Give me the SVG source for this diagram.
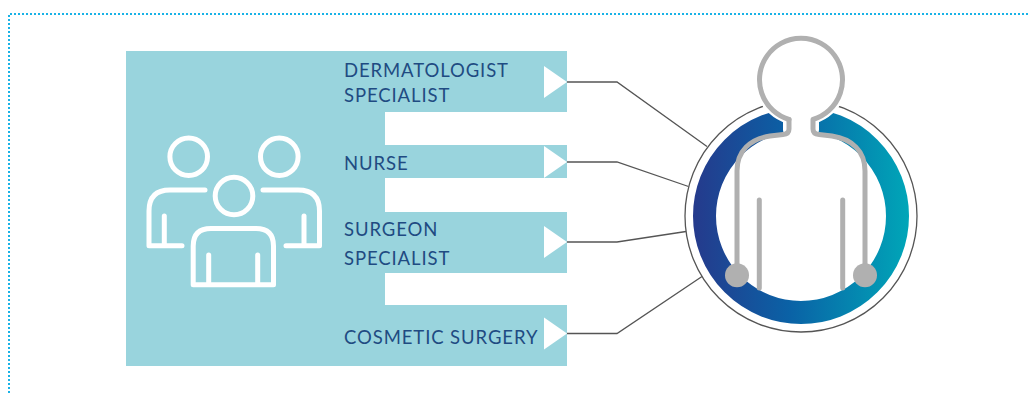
<svg xmlns="http://www.w3.org/2000/svg" width="1030" height="393" viewBox="0 0 1030 393">
  <defs>
    <linearGradient id="ringGrad" x1="693" y1="0" x2="909" y2="0" gradientUnits="userSpaceOnUse">
      <stop offset="0" stop-color="#253a8c"/>
      <stop offset="0.45" stop-color="#0a62a6"/>
      <stop offset="1" stop-color="#00a6b8"/>
    </linearGradient>
    <polygon id="tri" points="0,-16 23,0 0,16" fill="#ffffff"/>
  </defs>
  <style>
    .frame { fill: none; stroke: #19b2e6; stroke-width: 2; stroke-dasharray: 2 2; }
    .label { font-family: Lato, "Open Sans", sans-serif; font-size: 18.5px; letter-spacing: 0.9px; fill: #1f4b82; }
    .conn { fill: none; stroke: #555555; stroke-width: 1.3; }
    .icon { fill: none; stroke: #ffffff; stroke-width: 5; stroke-linecap: round; stroke-linejoin: round; }
    .fig { fill: none; stroke: #b0b0b0; stroke-width: 5; stroke-linecap: round; stroke-linejoin: round; }
    .halo { fill: #ffffff; stroke: #ffffff; stroke-width: 12; stroke-linejoin: round; }
  </style>

  <rect width="1030" height="393" fill="#ffffff"/>
  <path class="frame" d="M9,393 V14 H1030"/>

  <!-- team panel with notches between the specialty rows -->
  <g id="team">
    <path fill="#99d4dd" d="M126,51 H567 V112 H385 V145 H567 V178 H385 V212 H567 V273 H385 V305 H567 V366 H126 Z"/>
    <g class="icon">
      <circle cx="188.7" cy="156.7" r="18.8"/>
      <circle cx="279.3" cy="156.7" r="18.8"/>
      <circle cx="234" cy="196" r="18.8"/>
      <path d="M205,190 H170 Q149,190 149,211 V245.8 H182"/>
      <path d="M164.3,216 V245"/>
      <path d="M263,190 H298 Q319.5,190 319.5,211 V245.8 H286"/>
      <path d="M304,216 V245"/>
      <path d="M193.2,284.8 V246 Q193.2,228.5 211,228.5 H256 Q273.5,228.5 273.5,246 V284.8 Z"/>
      <path d="M208.7,255 V284"/>
      <path d="M257.7,255 V284"/>
    </g>
  </g>

  <g id="dermatologist">
    <text class="label" x="344" y="77">DERMATOLOGIST</text>
    <text class="label" x="344" y="101.5">SPECIALIST</text>
    <use href="#tri" x="544" y="82"/>
  </g>
  <g id="nurse">
    <text class="label" x="344" y="170">NURSE</text>
    <use href="#tri" x="544" y="162"/>
  </g>
  <g id="surgeon">
    <text class="label" x="344" y="235.5">SURGEON</text>
    <text class="label" x="344" y="264.5">SPECIALIST</text>
    <use href="#tri" x="544" y="242"/>
  </g>
  <g id="cosmetic">
    <text class="label" x="344" y="344">COSMETIC SURGERY</text>
    <use href="#tri" x="544" y="333.5"/>
  </g>

  <g id="connectors">
    <path class="conn" d="M567,82 H617 L707,146.5"/>
    <path class="conn" d="M567,162 H617 L688.5,186.5"/>
    <path class="conn" d="M567,242 H617 L686,231.5"/>
    <path class="conn" d="M567,333.5 H617 L702,276.5"/>
  </g>

  <!-- patient figure inside the care ring -->
  <g id="patient">
    <circle cx="801" cy="216" r="116" fill="#ffffff" stroke="#555555" stroke-width="1.3"/>
    <circle cx="801" cy="216" r="96.5" fill="none" stroke="url(#ringGrad)" stroke-width="23"/>
    <path class="halo" d="M789,118 A41.5,41.5 0 1 1 813,118 V130 H789 Z"/>
    <path class="fig" d="M789,119.5 A41.5,41.5 0 1 1 813,119.5 V129 Q813,134 819,134.5 L832,136 C852,139 865,151 865,171 V273"/>
    <path class="fig" d="M789,119.5 V129 Q789,134 783,134.5 L770,136 C750,139 737,151 737,171 V273"/>
    <path class="fig" d="M759.3,200 V288"/>
    <path class="fig" d="M842.7,200 V288"/>
    <circle cx="737" cy="275.3" r="12" fill="#b0b0b0"/>
    <circle cx="865" cy="275.3" r="12" fill="#b0b0b0"/>
  </g>
</svg>
